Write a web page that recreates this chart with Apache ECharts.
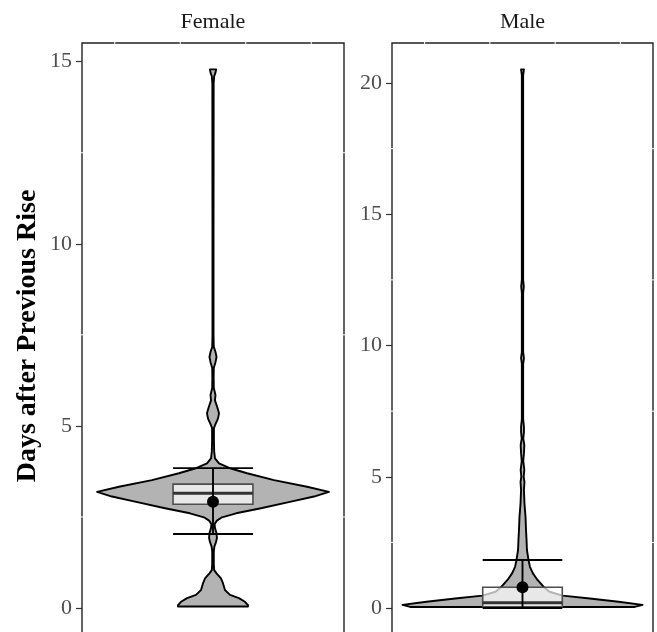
<!DOCTYPE html>
<html>
<head>
<meta charset="utf-8">
<script src="https://cdn.jsdelivr.net/npm/echarts@6/dist/echarts.min.js"></script>
<style>
html, body { margin: 0; padding: 0; background: #fff; }
#chart { width: 657px; height: 632px; }
</style>
</head>
<body>
<div id="chart"></div>
<script>
// Facets
const panels = ['Female', 'Male'];

// Tick labels per facet
const femaleTicks = [0, 5, 10, 15];
const maleTicks = [0, 5, 10, 15, 20];
const femaleMinorGrid = [2.5, 7.5, 12.5];
const maleMinorGrid = [2.5, 7.5, 12.5, 17.5];
const xMinorGrid = [-0.75, -0.25, 0.25, 0.75];

// Violin outlines: y value and density half-width (x-axis units)
const femaleViolinY = [0.04, 0.08, 0.17, 0.27, 0.36, 0.49, 0.68, 0.81, 0.95, 1.04, 1.2, 1.55, 1.68, 1.80, 1.92, 2.05, 2.20, 2.30, 2.40, 2.49, 2.60, 2.74, 2.92, 3.06, 3.19, 3.33, 3.51, 3.70, 3.83, 3.97, 4.11, 4.3, 4.6, 4.94, 5.05, 5.2, 5.35, 5.5, 5.7, 5.85, 6.04, 6.3, 6.59, 6.75, 6.89, 7.03, 7.17, 7.5, 10, 14.4, 14.6, 14.7, 14.79];
const femaleViolinHalf = [0.267, 0.267, 0.244, 0.198, 0.130, 0.092, 0.076, 0.061, 0.027, 0.009, 0.006, 0.006, 0.010, 0.022, 0.030, 0.027, 0.015, 0.012, 0.030, 0.069, 0.176, 0.366, 0.595, 0.771, 0.885, 0.718, 0.466, 0.260, 0.137, 0.046, 0.015, 0.009, 0.007, 0.007, 0.019, 0.038, 0.046, 0.034, 0.015, 0.019, 0.006, 0.005, 0.006, 0.019, 0.027, 0.019, 0.006, 0.004, 0.004, 0.005, 0.009, 0.019, 0.024];

const maleViolinY = [0.04, 0.12, 0.24, 0.37, 0.47, 0.62, 0.81, 1.07, 1.32, 1.57, 1.83, 2.21, 2.59, 2.97, 3.48, 3.99, 4.5, 4.8, 5.0, 5.26, 5.6, 5.9, 6.21, 6.45, 6.7, 6.9, 7.2, 9.3, 9.52, 9.75, 12.0, 12.24, 12.5, 20.3, 20.52];
const maleViolinHalf = [0.86, 0.92, 0.736, 0.498, 0.307, 0.207, 0.161, 0.115, 0.080, 0.057, 0.046, 0.034, 0.031, 0.027, 0.023, 0.015, 0.011, 0.015, 0.009, 0.014, 0.006, 0.011, 0.014, 0.006, 0.011, 0.011, 0.005, 0.005, 0.011, 0.005, 0.005, 0.010, 0.005, 0.005, 0.011];

// Box: [Q1, median, Q3]
const femaleBox = [2.85, 3.15, 3.40];
const maleBox = [0.05, 0.20, 0.79];

// Mean and mean ± SD
const femaleMean = 2.92;
const maleMean = 0.79;
const femaleErr = [2.03, 3.84];
const maleErr = [0, 1.83];

const SERIF = "'Liberation Serif', 'DejaVu Serif', serif";
const BOX_HALF = 0.305;
const ERR_HALF = 0.305;

function violinRenderer(ys, hs, box, mean, err) {
  return function (params, api) {
    const right = ys.map((y, i) => api.coord([hs[i], y]));
    const left = ys.map((y, i) => api.coord([-hs[i], y])).reverse();
    const children = [];
    children.push({
      type: 'polygon',
      shape: { points: right.concat(left) },
      style: { fill: '#b3b3b3', stroke: '#000', lineWidth: 1.9, lineJoin: 'round' }
    });
    const b0 = api.coord([-BOX_HALF, box[2]]);
    const b1 = api.coord([BOX_HALF, box[0]]);
    children.push({
      type: 'rect',
      shape: { x: b0[0], y: b0[1], width: b1[0] - b0[0], height: b1[1] - b0[1] },
      style: { fill: 'rgba(255,255,255,0.7)', stroke: '#4d4d4d', lineWidth: 1.6 }
    });
    const m0 = api.coord([-BOX_HALF, box[1]]);
    const m1 = api.coord([BOX_HALF, box[1]]);
    children.push({
      type: 'line',
      shape: { x1: m0[0], y1: m0[1], x2: m1[0], y2: m1[1] },
      style: { stroke: '#333', lineWidth: 3.2 }
    });
    const e0 = api.coord([0, err[0]]);
    const e1 = api.coord([0, err[1]]);
    children.push({
      type: 'line',
      shape: { x1: e0[0], y1: e0[1], x2: e1[0], y2: e1[1] },
      style: { stroke: '#000', lineWidth: 1.9 }
    });
    err.forEach(v => {
      const c0 = api.coord([-ERR_HALF, v]);
      const c1 = api.coord([ERR_HALF, v]);
      children.push({
        type: 'line',
        shape: { x1: c0[0], y1: c0[1], x2: c1[0], y2: c1[1] },
        style: { stroke: '#000', lineWidth: 1.9 }
      });
    });
    const mc = api.coord([0, mean]);
    children.push({
      type: 'circle',
      shape: { cx: mc[0], cy: mc[1], r: 6 },
      style: { fill: '#000' }
    });
    return { type: 'group', children: children };
  };
}

// Panel border (left, top, right) with thin white minor grid lines crossing it
function panelRenderer(yMinor, yMin, yMax) {
  return function (params, api) {
    const tl = api.coord([-1, yMax]);
    const tr = api.coord([1, yMax]);
    const bl = api.coord([-1, yMin]);
    const br = api.coord([1, yMin]);
    const children = [{
      type: 'polyline',
      shape: { points: [[bl[0], bl[1] + 4], tl, tr, [br[0], br[1] + 4]] },
      style: { stroke: '#222', lineWidth: 1.4, fill: null }
    }];
    yMinor.forEach(v => {
      const a = api.coord([-1, v]);
      const b = api.coord([1, v]);
      children.push({
        type: 'line',
        shape: { x1: a[0] - 2, y1: a[1], x2: b[0] + 2, y2: b[1] },
        style: { stroke: '#fff', lineWidth: 1 }
      });
    });
    xMinorGrid.forEach(v => {
      const a = api.coord([v, yMax]);
      const b = api.coord([v, yMin]);
      children.push({
        type: 'line',
        shape: { x1: a[0], y1: a[1] - 2, x2: b[0], y2: b[1] },
        style: { stroke: '#fff', lineWidth: 1 }
      });
    });
    return { type: 'group', children: children };
  };
}

const chart = echarts.init(document.getElementById('chart'), null, { renderer: 'canvas' });

const femaleRange = [-0.659, 15.513];
const maleRange = [-0.914, 21.524];

const gridBase = { top: 43, height: 589, show: false, containLabel: false };

function yAxisFor(idx, range, ticks) {
  return {
    gridIndex: idx,
    type: 'value',
    min: range[0],
    max: range[1],
    position: 'left',
    axisLine: { show: false, onZero: false },
    splitLine: { show: false },
    axisTick: { show: true, length: 6, customValues: ticks, lineStyle: { color: '#333', width: 1.2 } },
    axisLabel: { customValues: ticks, margin: 10, color: '#4d4d4d', fontFamily: SERIF, fontSize: 22 }
  };
}

chart.setOption({
  animation: false,
  backgroundColor: '#fff',
  grid: [
    Object.assign({ left: 82, width: 262 }, gridBase),
    Object.assign({ left: 392, width: 261 }, gridBase)
  ],
  xAxis: [
    { gridIndex: 0, type: 'value', min: -1, max: 1, show: false },
    { gridIndex: 1, type: 'value', min: -1, max: 1, show: false }
  ],
  yAxis: [
    yAxisFor(0, femaleRange, femaleTicks),
    yAxisFor(1, maleRange, maleTicks)
  ],
  graphic: [
    { type: 'text', x: 213, y: 22, style: { text: panels[0], align: 'center', verticalAlign: 'middle', font: "22px " + SERIF, fill: '#1a1a1a' } },
    { type: 'text', x: 522.5, y: 22, style: { text: panels[1], align: 'center', verticalAlign: 'middle', font: "22px " + SERIF, fill: '#1a1a1a' } },
    { type: 'text', x: 28, y: 336, rotation: Math.PI / 2, style: { text: 'Days after Previous Rise', align: 'center', verticalAlign: 'middle', font: "bold 28px " + SERIF, fill: '#000' } }
  ],
  series: [
    { type: 'custom', name: panels[0] + ' panel', xAxisIndex: 0, yAxisIndex: 0, z: 1, silent: true, data: [[0, 0]], renderItem: panelRenderer(femaleMinorGrid, femaleRange[0], femaleRange[1]) },
    { type: 'custom', name: panels[1] + ' panel', xAxisIndex: 1, yAxisIndex: 1, z: 1, silent: true, data: [[0, 0]], renderItem: panelRenderer(maleMinorGrid, maleRange[0], maleRange[1]) },
    { type: 'custom', name: panels[0], xAxisIndex: 0, yAxisIndex: 0, z: 3, data: [[0, femaleMean]], renderItem: violinRenderer(femaleViolinY, femaleViolinHalf, femaleBox, femaleMean, femaleErr) },
    { type: 'custom', name: panels[1], xAxisIndex: 1, yAxisIndex: 1, z: 3, data: [[0, maleMean]], renderItem: violinRenderer(maleViolinY, maleViolinHalf, maleBox, maleMean, maleErr) }
  ]
});
</script>
</body>
</html>
